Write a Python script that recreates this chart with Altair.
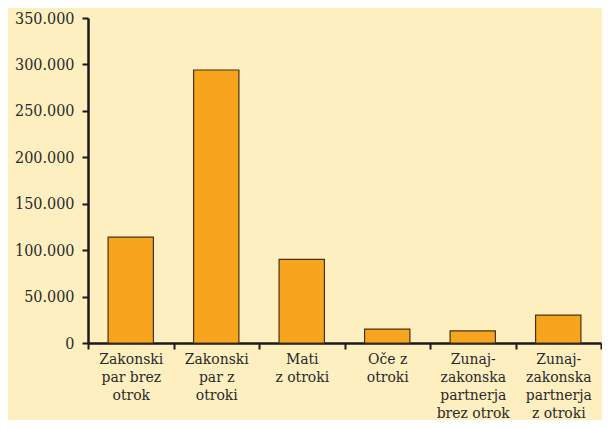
import altair as alt
import pandas as pd

categories = [
    "Zakonski|par brez|otrok",
    "Zakonski|par z|otroki",
    "Mati|z otroki",
    "Oče z|otroki",
    "Zunaj-|zakonska|partnerja|brez otrok",
    "Zunaj-|zakonska|partnerja|z otroki",
]
values = [114000, 294000, 90000, 15000, 13000, 30000]

df = pd.DataFrame({"cat": categories, "val": values})

FONT = "DejaVu Serif Condensed"

chart = (
    alt.Chart(df)
    .mark_bar(
        color="#F7A51F",
        stroke="#4a3210",
        strokeWidth=1.2,
        width=alt.RelativeBandSize(0.53),
    )
    .encode(
        x=alt.X(
            "cat:N",
            sort=categories,
            title=None,
            scale=alt.Scale(paddingInner=0, paddingOuter=0),
            axis=alt.Axis(
                labelExpr="split(datum.label, '|')",
                labelAngle=0,
                labelAlign="center",
                labelBaseline="top",
                labelFont=FONT,
                labelFontSize=15.5,
                labelColor="#2a2a2a",
                labelLineHeight=18,
                labelPadding=2,
                tickBand="extent",
                tickColor="#1a1a1a",
                tickWidth=2,
                tickSize=6,
                domainColor="#1a1a1a",
                domainWidth=2.5,
            ),
        ),
        y=alt.Y(
            "val:Q",
            title=None,
            scale=alt.Scale(domain=[0, 350000], nice=False),
            axis=alt.Axis(
                values=[0, 50000, 100000, 150000, 200000, 250000, 300000, 350000],
                labelExpr="replace(format(datum.value, ','), ',', '.')",
                labelFont=FONT,
                labelFontSize=16,
                labelColor="#2a2a2a",
                labelPadding=8,
                grid=False,
                tickColor="#1a1a1a",
                tickWidth=2,
                tickSize=6,
                domainColor="#1a1a1a",
                domainWidth=2.5,
            ),
        ),
    )
    .properties(
        width=513,
        height=325,
        background="#FDEFC0",
        padding={"left": 80, "top": 10, "right": 1, "bottom": 77},
        autosize=alt.AutoSizeParams(type="none"),
    )
    .configure_view(stroke=None)
)

chart.save("out.html", embed_options={"renderer": "svg", "actions": False})
